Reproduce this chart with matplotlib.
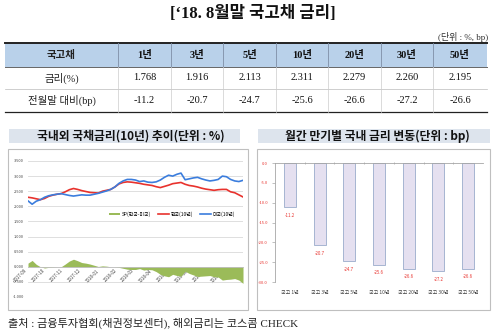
import matplotlib
matplotlib.use("Agg")
import matplotlib.pyplot as plt
import matplotlib.dates as mdates
from matplotlib.patches import Rectangle
import numpy as np
import pandas as pd

# ── data ─────────────────────────────────────────────────────────────────────
maturities = ["1년", "3년", "5년", "10년", "20년", "30년", "50년"]
rates = [1.768, 1.916, 2.113, 2.311, 2.279, 2.260, 2.195]
changes_bp = [-11.2, -20.7, -24.7, -25.6, -26.6, -27.2, -26.6]
bar_labels = ["국고 1년", "국고 3년", "국고 5년", "국고 10년", "국고 20년", "국고 30년", "국고 50년"]

# weekly 10y yields, Sep 2017 - Aug 2018
weeks = pd.date_range("2017-09-01", "2018-08-31", freq="W-FRI")
kr_10y = [2.30, 2.28, 2.25, 2.22, 2.26, 2.33, 2.37, 2.40, 2.42, 2.48,
          2.55, 2.59, 2.56, 2.52, 2.49, 2.46, 2.45, 2.44, 2.50, 2.53,
          2.56, 2.64, 2.74, 2.79, 2.81, 2.80, 2.78, 2.76, 2.73, 2.71,
          2.69, 2.65, 2.62, 2.66, 2.70, 2.75, 2.77, 2.79, 2.73, 2.69,
          2.67, 2.64, 2.60, 2.57, 2.55, 2.53, 2.55, 2.56, 2.56, 2.48,
          2.45, 2.38, 2.31]
us_10y = [2.18, 2.07, 2.17, 2.22, 2.30, 2.35, 2.38, 2.40, 2.42, 2.39,
          2.36, 2.34, 2.36, 2.38, 2.37, 2.37, 2.40, 2.43, 2.47, 2.51,
          2.56, 2.64, 2.76, 2.84, 2.89, 2.89, 2.87, 2.82, 2.84, 2.80,
          2.79, 2.81, 2.87, 2.96, 3.03, 3.00, 3.06, 3.10, 2.88, 2.91,
          2.94, 2.96, 2.91, 2.87, 2.84, 2.86, 2.89, 3.00, 2.98, 2.89,
          2.84, 2.82, 2.86]
spread = np.array(kr_10y) - np.array(us_10y)

# ── fonts / colours ──────────────────────────────────────────────────────────
SERIF = ["Liberation Serif", "Noto Sans CJK KR"]
SANS = ["Noto Sans CJK KR", "DejaVu Sans"]
plt.rcParams["font.family"] = SANS
plt.rcParams["axes.unicode_minus"] = False

RED = "#e8322d"
BLUE = "#3b7ddd"
GREEN = "#9bbb59"
BAND = "#dde4ed"
HEADER = "#b9d1ea"
FRAME = "#bfbfbf"

W, H = 500, 336
fig = plt.figure(figsize=(W / 100, H / 100), dpi=100)

# overlay in pixel coordinates for the title, table and frames
lay = fig.add_axes([0, 0, 1, 1], zorder=0)
lay.set_xlim(0, W)
lay.set_ylim(H, 0)
lay.axis("off")

lay.text(253, 14, "[‘18. 8월말 국고채 금리]", ha="center", va="center",
         fontsize=12, fontweight="bold", family=SERIF, color="#111111")
lay.text(488, 37, "(단위 : %, bp)", ha="right", va="center",
         fontsize=6.5, family=SERIF, color="#333333")

# table
col_x = [5, 118, 171, 223, 276, 328, 381, 433, 487]
row_y = [43, 67, 89, 112]
lay.add_patch(Rectangle((col_x[0], row_y[0]), col_x[-1] - col_x[0],
                        row_y[1] - row_y[0], facecolor=HEADER, edgecolor="none"))
lay.plot([col_x[0], col_x[-1]], [row_y[0]] * 2, color="#222222", lw=1.4)
lay.plot([col_x[0], col_x[-1]], [row_y[1]] * 2, color="#666666", lw=0.7)
lay.plot([col_x[0], col_x[-1]], [row_y[2]] * 2, color="#bbbbbb", lw=0.5)
lay.plot([col_x[0], col_x[-1]], [row_y[3]] * 2, color="#222222", lw=0.9)
for cx in col_x[1:-1]:
    lay.plot([cx, cx], [row_y[0], row_y[1]], color="#7f8fa6", lw=0.6)
    lay.plot([cx, cx], [row_y[1], row_y[3]], color="#cccccc", lw=0.5)

rows = [
    ("국고채", maturities, True),
    ("금리(%)", [f"{v:.3f}" for v in rates], False),
    ("전월말 대비(bp)", [f"{v:.1f}" for v in changes_bp], False),
]
for r, (head, cells, bold) in enumerate(rows):
    cy = (row_y[r] + row_y[r + 1]) / 2
    lay.text((col_x[0] + col_x[1]) / 2, cy, head, ha="center", va="center",
             fontsize=7.5, family=SERIF, color="#222222",
             fontweight="bold" if bold else "normal")
    for c, val in enumerate(cells):
        lay.text((col_x[c + 1] + col_x[c + 2]) / 2, cy, val, ha="center",
                 va="center", fontsize=7.5, family=SERIF, color="#111111",
                 fontweight="bold" if bold else "normal")

# chart title bands and frames
lay.add_patch(Rectangle((9, 129), 231, 14, facecolor=BAND, edgecolor="none"))
lay.text(131, 136, "국내외 국채금리(10년) 추이(단위 : %)", ha="center", va="center",
         fontsize=8.5, fontweight="bold", color="#111111")
lay.add_patch(Rectangle((258, 129), 232, 14, facecolor=BAND, edgecolor="none"))
lay.text(377, 136, "월간 만기별 국내 금리 변동(단위 : bp)", ha="center", va="center",
         fontsize=8.5, fontweight="bold", color="#111111")
lay.add_patch(Rectangle((8, 149), 240, 161, facecolor="none", edgecolor=FRAME, lw=0.8))
lay.add_patch(Rectangle((257, 149), 233, 161, facecolor="none", edgecolor=FRAME, lw=0.8))

lay.text(8, 323, "출처 : 금융투자협회(채권정보센터), 해외금리는 코스콤 CHECK",
         ha="left", va="center", fontsize=8, family=SERIF, color="#222222")


def px_axes(x0, y0, x1, y1):
    return fig.add_axes([x0 / W, 1 - y1 / H, (x1 - x0) / W, (y1 - y0) / H], zorder=2)


# ── left: 10y yields and spread ──────────────────────────────────────────────
ax = px_axes(28, 161, 243, 297)
ax.patch.set_alpha(0)
ax.fill_between(weeks, spread, 0, color=GREEN, lw=0, label="SP(한국-미국)")
ax.plot(weeks, kr_10y, color=RED, lw=1.2, label="한국(10년)")
ax.plot(weeks, us_10y, color=BLUE, lw=1.2, label="미국(10년)")
ax.set_ylim(-1.0, 3.5)
ax.set_xlim(pd.Timestamp("2017-09-01"), pd.Timestamp("2018-08-31"))
ax.set_yticks(np.arange(-1.0, 3.51, 0.5))
ax.yaxis.set_major_formatter(plt.FuncFormatter(lambda v, _: f"{v:.3f}"))
ax.yaxis.grid(True, color="#d9d9d9", lw=0.6)
ax.set_axisbelow(True)
ax.xaxis.set_major_locator(mdates.MonthLocator())
ax.xaxis.set_major_formatter(mdates.DateFormatter("%Y-%m"))
for side in ("left", "right", "top"):
    ax.spines[side].set_visible(False)
ax.spines["bottom"].set_position(("data", 0))
ax.spines["bottom"].set_color("#bfbfbf")
ax.spines["bottom"].set_linewidth(0.6)
ax.tick_params(axis="y", length=0, labelsize=2.8, labelcolor="#404040", pad=3)
ax.tick_params(axis="x", length=0, labelsize=3.2, labelcolor="#404040", pad=1)
for lbl in ax.get_xticklabels():
    lbl.set_rotation(45)
    lbl.set_ha("right")
    lbl.set_va("top")
ax.legend(loc="center", bbox_to_anchor=(0.67, 0.61), ncol=3, frameon=False,
          fontsize=3.5, handlelength=2.2, handleheight=0.4, columnspacing=1.5,
          handletextpad=0.4)

# ── right: monthly change by maturity ────────────────────────────────────────
bx = px_axes(275, 163, 483, 282)
bx.patch.set_alpha(0)
pos = np.arange(len(changes_bp))
bars = bx.bar(pos, changes_bp, width=0.4, color="#e5e0f0", edgecolor="#9aaccb", lw=0.6)
for rect, v in zip(bars, changes_bp):
    bx.annotate(f"{v:.1f}", (rect.get_x() + rect.get_width() / 2, v),
                xytext=(0, -6), textcoords="offset points", ha="center",
                va="center", fontsize=3.2, color=RED)
bx.set_ylim(-30, 0)
bx.set_xlim(-0.5, len(changes_bp) - 0.5)
bx.set_yticks(np.arange(-30, 0.1, 5))
bx.yaxis.set_major_formatter(plt.FuncFormatter(lambda v, _: f"{v:.1f}"))
bx.set_xticks(pos)
bx.set_xticklabels(bar_labels)
bx.set_xticks(pos[:-1] + 0.5, minor=True)
for side in ("right", "bottom"):
    bx.spines[side].set_visible(False)
for side in ("left", "top"):
    bx.spines[side].set_color("#a6a6a6")
    bx.spines[side].set_linewidth(0.6)
bx.tick_params(axis="y", length=2, width=0.5, color="#a6a6a6", labelsize=3,
               labelcolor=RED, pad=3)
bx.tick_params(axis="x", which="major", length=0, labelsize=3.6,
               labelcolor="#404040", pad=6)
bx.tick_params(axis="x", which="minor", bottom=False, top=True, length=2,
               width=0.5, color="#a6a6a6", direction="inout")

fig.savefig("out.png", dpi=100)
